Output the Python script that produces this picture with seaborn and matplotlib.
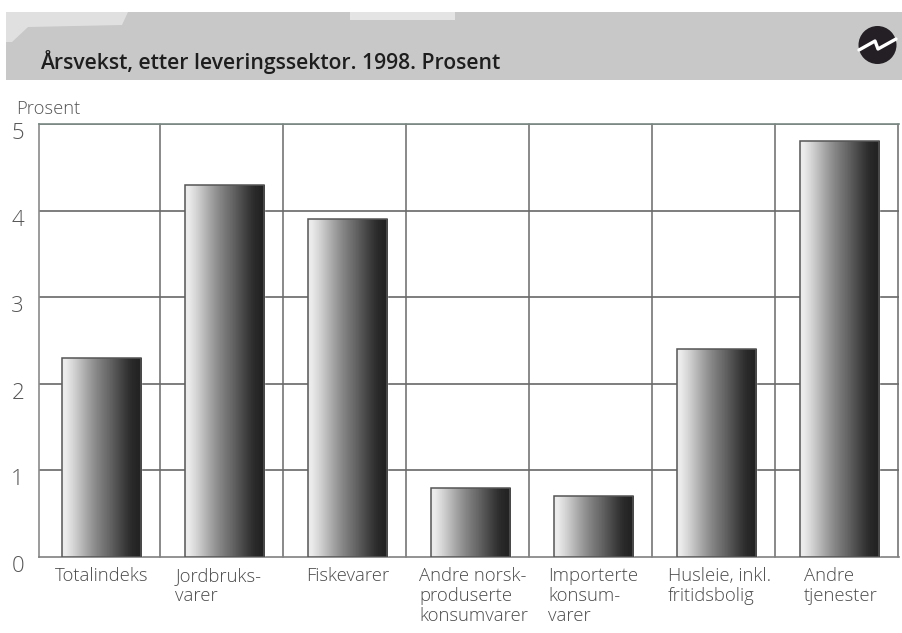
import numpy as np
import pandas as pd
import matplotlib
matplotlib.use('Agg')
import matplotlib.pyplot as plt
from matplotlib.patches import Rectangle, Polygon, Ellipse
from matplotlib.transforms import ScaledTranslation
import seaborn as sns

categories = ['Totalindeks', 'Jordbruks-\nvarer', 'Fiskevarer',
              'Andre norsk-\nproduserte\nkonsumvarer', 'Importerte\nkonsum-\nvarer',
              'Husleie, inkl.\nfritidsbolig', 'Andre\ntjenester']
values = [2.3, 4.3, 3.9, 0.8, 0.7, 2.4, 4.8]
y_ticks = [0, 1, 2, 3, 4, 5]

sns.set_theme(style='white')
plt.rcParams['font.family'] = ['Open Sans', 'DejaVu Sans']

W, H = 903, 633
fig = plt.figure(figsize=(W / 100, H / 100), dpi=100)
ax = fig.add_axes([39 / W, 1 - 557 / H, 860 / W, 433 / H])

df = pd.DataFrame({'kategori': categories, 'prosent': values})
sns.barplot(data=df, x='kategori', y='prosent', width=0.646, color='white', ax=ax, zorder=3)

xlim = (-0.508, 6.484)
ax.set_xlim(xlim)
ax.set_ylim(0, 5)
ax.set_xlabel('')
ax.set_ylabel('')

# grid lines, one between each category
ax.set_yticks(y_ticks)
for y in y_ticks[1:]:
    ax.axhline(y, color='#5a5a5a', lw=1.1, zorder=1)
for i in range(7):
    ax.axvline(i + 0.475, color='#6a6a6a', lw=1.1, zorder=1, clip_on=False)
for side, col in [('left', '#8a8a8a'), ('bottom', '#808080'), ('top', '#7a8a85')]:
    ax.spines[side].set_visible(True)
    ax.spines[side].set_color(col)
    ax.spines[side].set_linewidth(1.2)
ax.spines['right'].set_visible(False)

# light to dark shading inside the bars
shade = np.array([[0.92, 0.84, 0.74, 0.64, 0.55, 0.47, 0.40, 0.32, 0.24, 0.17, 0.14]])
for p in ax.patches:
    x0, w, h = p.get_x(), p.get_width(), p.get_height()
    im = ax.imshow(shade, extent=[x0, x0 + w, 0, h], cmap='gray', vmin=0, vmax=1,
                   aspect='auto', interpolation='bilinear', zorder=3.5)
    im.set_clip_path(p)
    ax.add_patch(Rectangle((x0, 0), w, h, fill=False, ec='#555555', lw=1.1, zorder=4))
ax.set_xlim(xlim)
ax.set_ylim(0, 5)

ax.tick_params(axis='both', length=0)
ax.set_xticks(range(7))
ax.set_xticklabels(categories, fontsize=13.3, fontweight='light', color='#4a4a4a',
                   ma='left', linespacing=1.14)
ax.tick_params(axis='x', pad=7)
# labels are set a little off the bar centres in the original
nudge = [0, -6, 0, 3, 0, 3, 1]
for lab, dx in zip(ax.get_xticklabels(), nudge):
    lab.set_transform(lab.get_transform() + ScaledTranslation(dx / 100, 0, fig.dpi_scale_trans))

ax.set_yticklabels([str(y) for y in y_ticks], fontsize=16, fontweight='light', color='#555555')
for lab in ax.get_yticklabels():
    lab.set_ha('center')
    lab.set_transform(lab.get_transform() + ScaledTranslation(-0.165, -0.07, fig.dpi_scale_trans))

# header band
fig.patches.append(Rectangle((6 / W, 1 - 80 / H), 897 / W, 68 / H, transform=fig.transFigure,
                             fc='#c8c8c8', ec='none', zorder=0))
fig.patches.append(Polygon([(6 / W, 1 - 12 / H), (128 / W, 1 - 12 / H), (122 / W, 1 - 25 / H),
                            (28 / W, 1 - 27 / H), (12 / W, 1 - 42 / H), (6 / W, 1 - 42 / H)],
                           transform=fig.transFigure, fc='#e0e0e0', ec='none', zorder=0))
fig.patches.append(Rectangle((350 / W, 1 - 20 / H), 105 / W, 8 / H, transform=fig.transFigure,
                             fc='#e4e4e4', ec='none', zorder=0))
fig.text(40 / W, 1 - 59.5 / H, 'Årsvekst, etter leveringssektor. 1998. Prosent',
         fontsize=15.2, fontweight='semibold', color='#1e1e1e', va='center_baseline', zorder=5)
fig.text(16 / W, 1 - 107 / H, 'Prosent', fontsize=13.2, fontweight='light', color='#555555',
         va='center_baseline')

# logo: dark disc with a white zigzag
fig.patches.append(Ellipse((877.5 / W, 1 - 45 / H), 38 / W, 38 / H, transform=fig.transFigure,
                           fc='#231f24', ec='none', zorder=5))
fig.add_artist(plt.Line2D([859 / W, 875 / W, 878 / W, 896 / W],
                          [1 - 50 / H, 1 - 41 / H, 1 - 49 / H, 1 - 39 / H],
                          color='white', lw=2.4, zorder=6))

fig.savefig('out.png', dpi=100, facecolor='white')
